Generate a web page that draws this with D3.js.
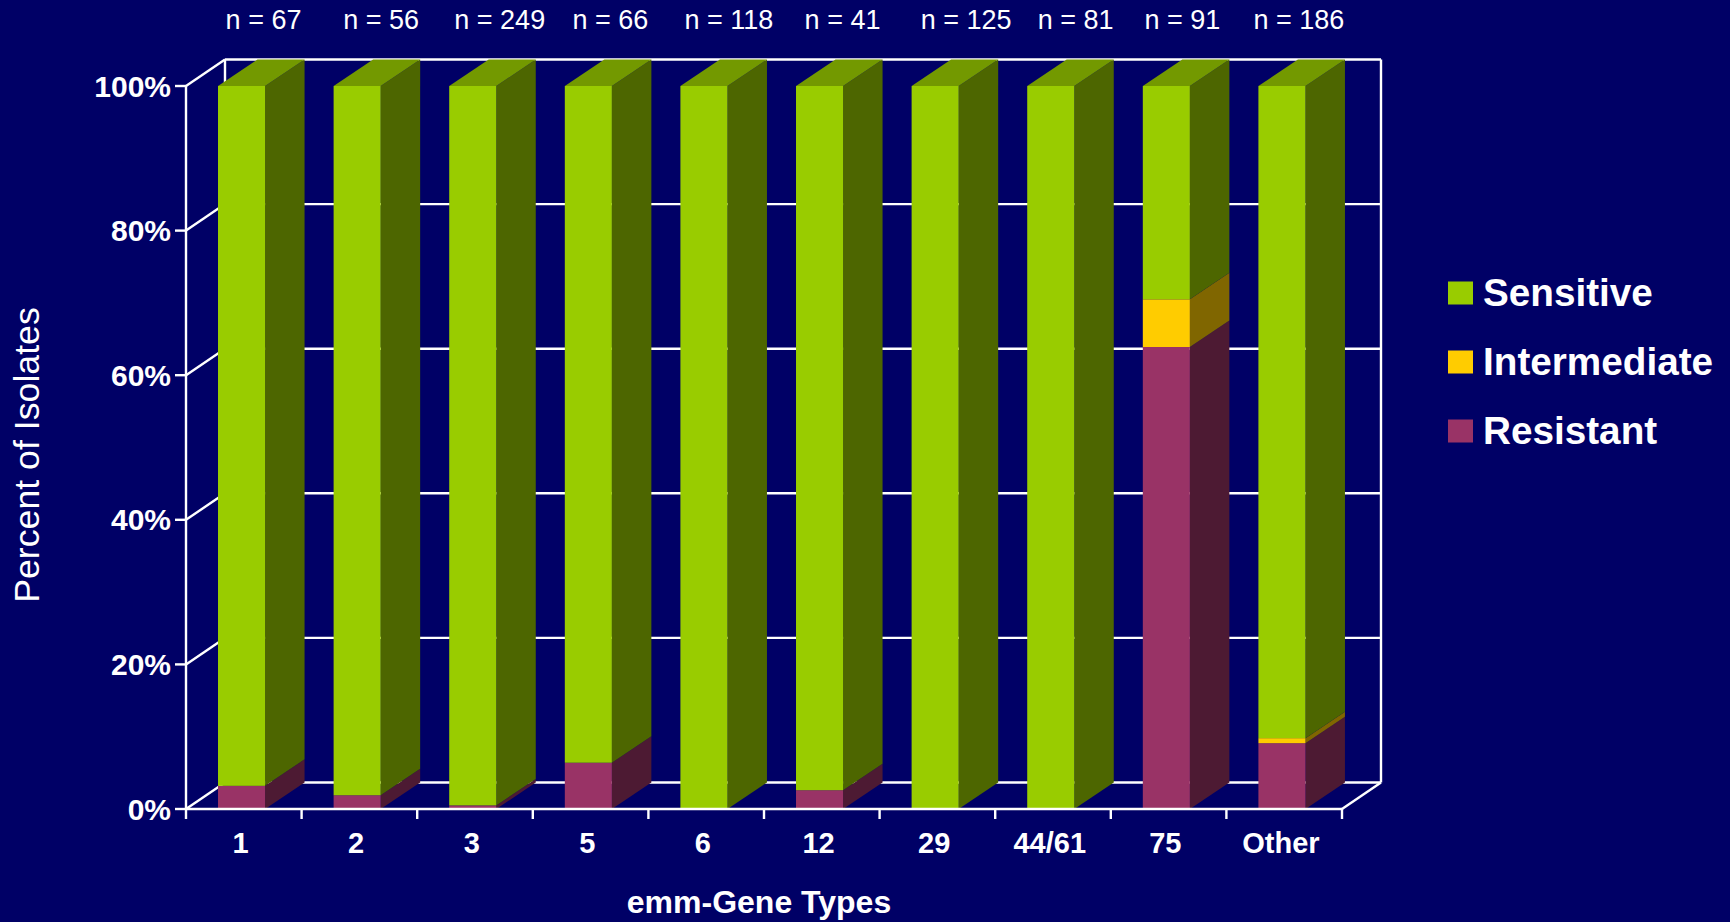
<!DOCTYPE html>
<html>
<head>
<meta charset="utf-8">
<title>Susceptibility by emm-gene type</title>
<script src="https://cdn.jsdelivr.net/npm/d3@7/dist/d3.min.js"></script>
<style>
  html, body { margin: 0; padding: 0; background: #000066; }
  svg { display: block; }
  text { font-family: "Liberation Sans", Arial, sans-serif; fill: #ffffff; }
</style>
</head>
<body>
<svg id="chart" width="1730" height="922"></svg>
<script>
// Isolate percentages per emm-gene type
const categories = ["1", "2", "3", "5", "6", "12", "29", "44/61", "75", "Other"];
const counts = [67, 56, 249, 66, 118, 41, 125, 81, 91, 186];
const resistant = [3.2, 1.9, 0.5, 6.4, 0, 2.6, 0, 0, 63.9, 9.1];
const intermediate = [0, 0, 0, 0, 0, 0, 0, 0, 6.6, 0.7];
const sensitive = [96.8, 98.1, 99.5, 93.6, 100, 97.4, 100, 100, 29.5, 90.2];
const yTicks = [0, 20, 40, 60, 80, 100];
const seriesNames = ["Resistant", "Intermediate", "Sensitive"];
const legendOrder = ["Sensitive", "Intermediate", "Resistant"];

const palette = {
  Resistant: { front: "#993366", side: "#4d1a33" },
  Intermediate: { front: "#ffcc00", side: "#806600" },
  Sensitive: { front: "#99cc00", side: "#4d6600" }
};
const topColor = "#739900";

// Oblique projection of the chart box
const depthX = 39, depthY = -26.5;
const barDepthX = 39.5, barDepthY = -26.5;

// The sample-size captions sit slightly off their bars, each by its own amount
const captionNudge = [0, 2, 5, 0, 3, 1, 9, 3, -6, -5];

const svg = d3.select("#chart");

const x = d3.scaleBand()
  .domain(categories)
  .range([186, 1342])
  .paddingInner(0.593)
  .paddingOuter(0.2965)
  .align(0.467);
const y = d3.scaleLinear().domain([0, 100]).range([809, 86]);

const rows = categories.map((c, i) => ({
  category: c,
  Resistant: resistant[i],
  Intermediate: intermediate[i],
  Sensitive: sensitive[i]
}));
const layers = d3.stack().keys(seriesNames)(rows);

// Walls and gridlines, behind the bars
const frame = svg.append("g")
  .attr("stroke", "#ffffff")
  .attr("stroke-width", 2.4)
  .attr("fill", "none");
const [x0, x1] = x.range();

frame.selectAll("line.grid").data(yTicks).join("line")
  .attr("class", "grid")
  .attr("x1", x0 + depthX).attr("x2", x1 + depthX)
  .attr("y1", d => y(d) + depthY).attr("y2", d => y(d) + depthY);
frame.selectAll("line.diag").data(yTicks).join("line")
  .attr("class", "diag")
  .attr("x1", x0).attr("x2", x0 + depthX)
  .attr("y1", d => y(d)).attr("y2", d => y(d) + depthY);
frame.append("line")
  .attr("x1", x0 + depthX).attr("x2", x0 + depthX)
  .attr("y1", y(100) + depthY).attr("y2", y(0) + depthY);
frame.append("line")
  .attr("x1", x1 + depthX).attr("x2", x1 + depthX)
  .attr("y1", y(100) + depthY).attr("y2", y(0) + depthY);
frame.append("line")
  .attr("x1", x1).attr("x2", x1 + depthX)
  .attr("y1", y(0)).attr("y2", y(0) + depthY);

// Bars: side face of each segment, then front face, then the cap
const bars = svg.append("g");
const polygon = pts => pts.map(p => p.join(",")).join(" ");

categories.forEach((c, i) => {
  const g = bars.append("g");
  const left = x(c), right = left + x.bandwidth();
  layers.forEach(layer => {
    const [lo, hi] = layer[i];
    if (hi - lo <= 0) return;
    const colors = palette[layer.key];
    g.append("polygon")
      .attr("fill", colors.side)
      .attr("points", polygon([
        [right, y(lo)], [right + barDepthX, y(lo) + barDepthY],
        [right + barDepthX, y(hi) + barDepthY], [right, y(hi)]
      ]));
    g.append("rect")
      .attr("fill", colors.front)
      .attr("x", left).attr("width", x.bandwidth())
      .attr("y", y(hi)).attr("height", y(lo) - y(hi));
  });
  g.append("polygon")
    .attr("fill", topColor)
    .attr("points", polygon([
      [left, y(100)], [right, y(100)],
      [right + barDepthX, y(100) + barDepthY], [left + barDepthX, y(100) + barDepthY]
    ]));
});

// Front axes, over the bars
const axes = svg.append("g")
  .attr("stroke", "#ffffff")
  .attr("stroke-width", 2.4);
axes.append("line")
  .attr("x1", x0).attr("x2", x0)
  .attr("y1", y(100)).attr("y2", y(0) + 10);
axes.append("line")
  .attr("x1", x0).attr("x2", x1)
  .attr("y1", y(0)).attr("y2", y(0));
axes.selectAll("line.ytick").data(yTicks).join("line")
  .attr("class", "ytick")
  .attr("x1", x0 - 11).attr("x2", x0)
  .attr("y1", d => y(d)).attr("y2", d => y(d));
const step = x.step();
axes.selectAll("line.xtick").data(categories).join("line")
  .attr("class", "xtick")
  .attr("x1", (d, i) => x0 + step * (i + 1)).attr("x2", (d, i) => x0 + step * (i + 1))
  .attr("y1", y(0)).attr("y2", y(0) + 10);

// Value axis labels
svg.append("g").selectAll("text").data(yTicks).join("text")
  .attr("x", 171)
  .attr("y", d => y(d) + 10.5)
  .attr("text-anchor", "end")
  .attr("font-size", 30)
  .attr("font-weight", "bold")
  .text(d => d + "%");

// Category labels and sample sizes
svg.append("g").selectAll("text").data(categories).join("text")
  .attr("x", c => x(c) + x.bandwidth() / 2 - 1)
  .attr("y", 853)
  .attr("text-anchor", "middle")
  .attr("font-size", 29)
  .attr("font-weight", "bold")
  .text(c => c);

svg.append("g").selectAll("text").data(categories).join("text")
  .attr("x", (c, i) => x(c) + x.bandwidth() / 2 + 22 + captionNudge[i])
  .attr("y", 29)
  .attr("text-anchor", "middle")
  .attr("font-size", 27)
  .text((c, i) => "n = " + counts[i]);

// Axis titles
svg.append("text")
  .attr("x", 759).attr("y", 913)
  .attr("text-anchor", "middle")
  .attr("font-size", 32)
  .attr("font-weight", "bold")
  .text("emm-Gene Types");

svg.append("text")
  .attr("transform", "translate(39,455) rotate(-90)")
  .attr("text-anchor", "middle")
  .attr("font-size", 35.7)
  .text("Percent of Isolates");

// Legend
const legendY = d3.scalePoint().domain(legendOrder).range([293, 431]);
const legend = svg.append("g").selectAll("g").data(legendOrder).join("g")
  .attr("transform", d => `translate(1448,${legendY(d)})`);
legend.append("rect")
  .attr("x", 0).attr("y", -11.5)
  .attr("width", 25).attr("height", 23)
  .attr("fill", d => palette[d].front);
legend.append("text")
  .attr("x", 35).attr("y", 13)
  .attr("font-size", 38.7)
  .attr("font-weight", "bold")
  .text(d => d);
</script>
</body>
</html>
